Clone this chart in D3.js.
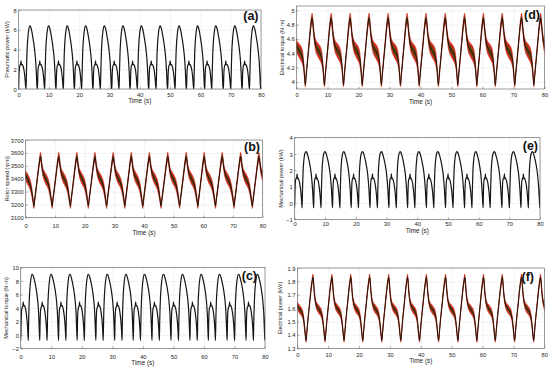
<!DOCTYPE html>
<html><head><meta charset="utf-8">
<script src="https://cdn.jsdelivr.net/npm/d3@7"></script>
<style>body{margin:0;background:#fff}svg{display:block;font-family:"Liberation Sans",Arial,sans-serif}</style>
</head><body><svg id="c" width="550" height="369"></svg>
<script>
// ---------- data ----------
const timeTicks = [0, 10, 20, 30, 40, 50, 60, 70, 80];
// start time of each operating cycle (dip before the large pulse), s
const cycleStarts = [-3.8, 2.49, 8.65, 14.81, 20.86, 27.03, 33.19, 39.24, 45.41, 51.68, 57.84, 63.78, 70.05, 76.22];
const cycleLength = 6.15;
// one cycle of the mechanical quantities: time offset within cycle (s)
const offsetsMech = [0, 0.12, 0.3, 0.55, 0.85, 1.25, 1.5, 1.85, 2.25, 2.65, 2.95, 3.2, 3.4, 3.58, 3.75, 3.85, 4.0, 4.2, 4.4, 4.55, 4.65, 4.85, 5.2, 5.5, 5.8, 6.0, 6.15];
const pneumaticPower = [0, 1.6, 3.6, 5.0, 5.9, 6.4, 6.3, 5.9, 5.2, 4.4, 3.6, 2.7, 1.6, 0.3, 0, 1.2, 2.1, 2.4, 2.5, 2.85, 2.45, 2.5, 2.3, 1.9, 1.1, 0.3, 0];
const mechTorque = [-0.8, 2.2, 5.0, 7.0, 8.3, 9.0, 8.9, 8.4, 7.6, 6.6, 5.6, 4.4, 3.0, 0.8, -0.8, 1.8, 3.6, 4.1, 4.3, 4.9, 4.3, 4.4, 4.0, 3.2, 1.9, 0.5, -0.8];
const mechPower = [-0.3, 0.8, 1.9, 2.6, 3.0, 3.15, 3.1, 2.9, 2.6, 2.2, 1.8, 1.3, 0.8, 0.15, -0.3, 0.6, 1.3, 1.5, 1.55, 1.78, 1.48, 1.52, 1.35, 1.05, 0.55, 0.05, -0.3];
// one cycle of the electrical quantities
const offsetsElec = [0.35, 0.6, 0.9, 1.2, 1.6, 2.0, 2.3, 2.55, 2.75, 3.0, 3.3, 3.7, 4.2, 4.8, 5.3, 5.7, 6.0, 6.25, 6.5];
const rotorSpeed = [3190, 3235, 3290, 3345, 3420, 3495, 3545, 3570, 3555, 3505, 3460, 3430, 3405, 3380, 3350, 3310, 3265, 3225, 3190];
const rotorSpeedSpread = [20, 18, 18, 18, 20, 22, 28, 35, 30, 25, 30, 35, 40, 40, 38, 35, 28, 22, 20];
const elecTorque = [3.96, 4.08, 4.22, 4.36, 4.55, 4.74, 4.85, 4.89, 4.84, 4.72, 4.6, 4.51, 4.46, 4.42, 4.38, 4.32, 4.22, 4.08, 3.96];
const elecTorqueSpread = [0.03, 0.035, 0.035, 0.035, 0.04, 0.05, 0.06, 0.07, 0.06, 0.05, 0.06, 0.08, 0.09, 0.1, 0.1, 0.09, 0.06, 0.04, 0.03];
const elecPower = [1.36, 1.42, 1.5, 1.57, 1.66, 1.75, 1.8, 1.83, 1.8, 1.72, 1.66, 1.62, 1.6, 1.58, 1.56, 1.52, 1.46, 1.4, 1.36];
const elecPowerSpread = [0.015, 0.013, 0.013, 0.013, 0.015, 0.018, 0.02, 0.025, 0.02, 0.02, 0.02, 0.025, 0.03, 0.03, 0.03, 0.025, 0.02, 0.015, 0.015];
// y tick labels
const ticksA = [0, 2, 4, 6, 8];
const ticksB = [3100, 3200, 3300, 3400, 3500, 3600, 3700];
const ticksC = [-2, 0, 2, 4, 6, 8, 10];
const ticksD = [4, 4.2, 4.4, 4.6, 4.8, 5];
const ticksE = [-1, 0, 1, 2, 3, 4];
const ticksF = [1.3, 1.4, 1.5, 1.6, 1.7, 1.8, 1.9];

// ---------- build series ----------
function buildSeries(offsets, values, spread) {
  const pts = [];
  cycleStarts.forEach((s, i) => {
    const last = i === cycleStarts.length - 1;
    const k = last ? 1 : (cycleStarts[i + 1] - s) / cycleLength;
    const n = last ? offsets.length : offsets.length - 1;
    for (let j = 0; j < n; j++) {
      pts.push({ t: s + offsets[j] * k, v: values[j], s: spread ? spread[j] : 0 });
    }
  });
  return pts;
}

const panels = [
  { tag: '(a)', data: buildSeries(offsetsMech, pneumaticPower), yDom: [0, 8], yTicks: ticksA, fmt: d3.format('d'),
    label: 'Pneumatic power (kW)', x0: 18.5, x1: 261, y0: 10, y1: 89, labX: 7, tickY: 94.7, xlabY: 101, tagX: 258.5, tagY: 20 },
  { tag: '(b)', data: buildSeries(offsetsElec, rotorSpeed, rotorSpeedSpread), yDom: [3100, 3700], yTicks: ticksB, fmt: d3.format('d'),
    label: 'Rotor speed (rpm)', x0: 25.5, x1: 262.5, y0: 140, y1: 217.5, labX: 7, tickY: 226, xlabY: 232.5, tagX: 260, tagY: 151, measured: true },
  { tag: '(c)', data: buildSeries(offsetsMech, mechTorque), yDom: [-2, 10], yTicks: ticksC, fmt: d3.format('d'),
    label: 'Mechanical torque (N\u00b7m)', x0: 20.7, x1: 265, y0: 267.5, y1: 348.5, labX: 6, tickY: 356.5, xlabY: 363, tagX: 257, tagY: 279.5 },
  { tag: '(d)', data: buildSeries(offsetsElec, elecTorque, elecTorqueSpread), yDom: [3.9, 5.06], yTicks: ticksD, fmt: d3.format('.1f'),
    label: 'Electrical torque (N\u00b7m)', x0: 296.5, x1: 544.5, y0: 6, y1: 89, labX: 282, tickY: 95, xlabY: 101.5, tagX: 540, tagY: 19, measured: true, tickFmt: v => (v === 4 || v === 5) ? String(v) : d3.format('.1f')(v) },
  { tag: '(e)', data: buildSeries(offsetsMech, mechPower), yDom: [-1, 4], yTicks: ticksE, fmt: d3.format('d'),
    label: 'Mechanical power (kW)', x0: 294.5, x1: 540, y0: 137.7, y1: 219.3, labX: 281, tickY: 224, xlabY: 230.7, tagX: 538, tagY: 149.5 },
  { tag: '(f)', data: buildSeries(offsetsElec, elecPower, elecPowerSpread), yDom: [1.3, 1.9], yTicks: ticksF, fmt: d3.format('.1f'),
    label: 'Electrical power (kW)', x0: 297.3, x1: 544.3, y0: 268, y1: 348.3, labX: 280, tickY: 355, xlabY: 361, tagX: 534, tagY: 280.5, measured: true }
];

const svg = d3.select('#c');
const axisCol = '#5a5a5a';
const textCol = '#262626';

panels.forEach((p, idx) => {
  const x = d3.scaleLinear().domain([0, 80]).range([p.x0, p.x1]);
  const y = d3.scaleLinear().domain(p.yDom).range([p.y1, p.y0]);
  const g = svg.append('g');
  const w = p.x1 - p.x0, h = p.y1 - p.y0;

  // grid
  g.append('g').attr('transform', `translate(0,${p.y1})`)
    .call(d3.axisBottom(x).tickValues(timeTicks).tickSize(-h).tickFormat(''))
    .call(s => { s.select('.domain').remove(); s.selectAll('line').attr('stroke', '#e6e6e6').attr('stroke-width', 0.5); });
  g.append('g').attr('transform', `translate(${p.x0},0)`)
    .call(d3.axisLeft(y).tickValues(p.yTicks).tickSize(-w).tickFormat(''))
    .call(s => { s.select('.domain').remove(); s.selectAll('line').attr('stroke', '#e6e6e6').attr('stroke-width', 0.5); });

  // clip
  const cid = 'clip' + idx;
  svg.append('clipPath').attr('id', cid).append('rect').attr('x', p.x0).attr('y', p.y0).attr('width', w).attr('height', h);
  const plot = g.append('g').attr('clip-path', `url(#${cid})`);

  if (p.measured) {
    const band = d3.area().x(d => x(d.t)).y0(d => y(d.v - d.s)).y1(d => y(d.v + d.s)).curve(d3.curveMonotoneX);
    plot.append('path').datum(p.data).attr('d', band).attr('fill', '#d42a1e').attr('stroke', '#d42a1e').attr('stroke-width', 0.6);
    const band2 = d3.area().x(d => x(d.t)).y0(d => y(d.v - d.s * 0.55)).y1(d => y(d.v + d.s * 0.55)).curve(d3.curveMonotoneX);
    plot.append('path').datum(p.data).attr('d', band2).attr('fill', '#4f4a12').attr('fill-opacity', 0.8);
    const line = d3.line().x(d => x(d.t)).y(d => y(d.v)).curve(d3.curveMonotoneX);
    plot.append('path').datum(p.data).attr('d', line).attr('fill', 'none').attr('stroke', '#1e1408').attr('stroke-width', 1);
  } else {
    const line = d3.line().x(d => x(d.t)).y(d => y(d.v)).curve(d3.curveMonotoneX);
    plot.append('path').datum(p.data).attr('d', line).attr('fill', 'none').attr('stroke', '#151515').attr('stroke-width', 1.2);
  }

  // axes
  const fmtY = p.tickFmt || p.fmt;
  const ax = g.append('g').attr('transform', `translate(0,${p.y1})`)
    .call(d3.axisBottom(x).tickValues(timeTicks).tickSizeInner(-2).tickSizeOuter(0).tickFormat(d3.format('d')));
  ax.select('.domain').remove();
  ax.selectAll('line').attr('stroke', axisCol).attr('stroke-width', 0.5);
  ax.selectAll('text').attr('y', p.tickY - p.y1).attr('dy', '0.35em').attr('font-size', 5.8).attr('fill', textCol);
  const ay = g.append('g').attr('transform', `translate(${p.x0},0)`)
    .call(d3.axisLeft(y).tickValues(p.yTicks).tickSizeInner(-2).tickSizeOuter(0).tickFormat(fmtY));
  ay.select('.domain').remove();
  ay.selectAll('line').attr('stroke', axisCol).attr('stroke-width', 0.5);
  ay.selectAll('text').attr('x', -1.8).attr('dy', '0.35em').attr('font-size', 5.8).attr('fill', textCol);

  // box
  g.append('rect').attr('x', p.x0).attr('y', p.y0).attr('width', w).attr('height', h)
    .attr('fill', 'none').attr('stroke', axisCol).attr('stroke-width', 0.6);

  // labels
  g.append('text').attr('x', (p.x0 + p.x1) / 2).attr('y', p.xlabY).attr('dy', '0.35em')
    .attr('text-anchor', 'middle').attr('font-size', 6.4).attr('fill', textCol).text('Time (s)');
  g.append('text').attr('transform', `translate(${p.labX},${(p.y0 + p.y1) / 2}) rotate(-90)`).attr('dy', '0.35em')
    .attr('text-anchor', 'middle').attr('font-size', 5.6).attr('fill', textCol).text(p.label);
  g.append('text').attr('x', p.tagX).attr('y', p.tagY).attr('text-anchor', 'end')
    .attr('font-size', 12.5).attr('font-weight', 'bold').attr('fill', '#111').text(p.tag);
});
</script></body></html>
